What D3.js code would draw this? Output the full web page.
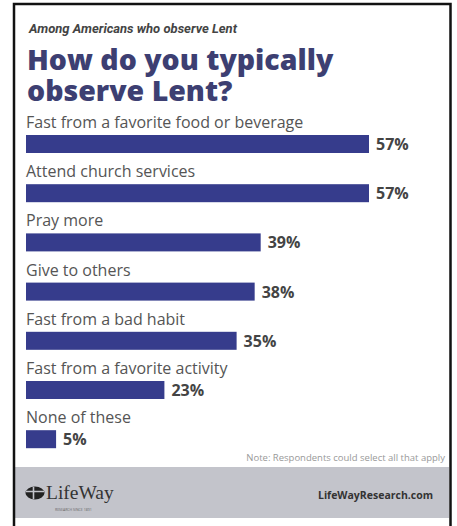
<!DOCTYPE html>
<html lang="en">
<head>
  <meta charset="UTF-8" />
  <title>How do you typically observe Lent?</title>
  <script src="https://d3js.org/d3.v7.min.js"></script>
  <style>
    body {
      margin: 0;
      background: #fff;
      overflow: hidden;
    }
    svg text {
      font-family: "Open Sans", "Noto Sans", sans-serif;
    }
  </style>
</head>
<body>
<svg width="457" height="526"></svg>
<script>
const categories = [
  "Fast from a favorite food or beverage",
  "Attend church services",
  "Pray more",
  "Give to others",
  "Fast from a bad habit",
  "Fast from a favorite activity",
  "None of these"
];
const values = [57, 57, 39, 38, 35, 23, 5];
const valueLabels = ["57%", "57%", "39%", "38%", "35%", "23%", "5%"];

const kicker = "Among Americans who observe Lent";
const titleLines = ["How do you typically", "observe Lent?"];
const note = "Note: Respondents could select all that apply";

const width = 457, height = 526;
const svg = d3.select("svg");

// frame + footer band
svg.append("rect")
  .attr("x", 15).attr("y", 467).attr("width", 434).attr("height", 51)
  .attr("fill", "#c3c4cb");
svg.append("path")
  .attr("d", "M14,526 V4 H450.5 V526")
  .attr("fill", "none")
  .attr("stroke", "#111")
  .attr("stroke-width", 2.5);

// headings
svg.append("text")
  .attr("x", 29).attr("y", 33)
  .style("font-family", "Roboto, sans-serif")
  .attr("font-size", 13).attr("font-weight", 700).attr("font-style", "italic")
  .attr("fill", "#444")
  .text(kicker);

// title as one text, two lines
svg.append("text")
  .attr("class", "title")
  .attr("font-size", 28.5).attr("font-weight", 800)
  .attr("fill", "#3d3f72")
  .selectAll("tspan")
  .data(titleLines)
  .enter()
  .append("tspan")
  .attr("x", 27)
  .attr("y", (d, i) => 70 + i * 31)
  .text(d => d);

// scales
const x = d3.scaleLinear().domain([0, 57]).range([0, 343]);
const y = d3.scaleBand().domain(categories).range([117, 117 + 7 * 49.2]);
const left = 26, barH = 18;

const rows = svg.selectAll(".row")
  .data(categories.map((c, i) => ({ c, v: values[i], lab: valueLabels[i] })))
  .enter()
  .append("g")
  .attr("class", "row")
  .attr("transform", d => `translate(0,${y(d.c)})`);

rows.append("text")
  .attr("x", left).attr("y", 11)
  .attr("font-size", 16)
  .attr("fill", "#555")
  .text(d => d.c);

rows.append("rect")
  .attr("x", left).attr("y", 18)
  .attr("width", d => x(d.v)).attr("height", barH)
  .attr("fill", "#363c8c");

rows.append("text")
  .attr("x", d => left + x(d.v) + 7).attr("y", 33)
  .attr("font-size", 16).attr("font-weight", 700)
  .attr("fill", "#444")
  .text(d => d.lab);

// note
svg.append("text")
  .attr("x", 445).attr("y", 461)
  .attr("text-anchor", "end")
  .attr("font-size", 9.5)
  .attr("fill", "#999")
  .text(note);

// footer logo
const logo = svg.append("g").attr("transform", "translate(35,493)");
logo.append("ellipse").attr("rx", 9.5).attr("ry", 6.5).attr("fill", "#222");
logo.append("path")
  .attr("d", "M-1.5,-6 V6 M-9,-1.5 H9")
  .attr("stroke", "#c3c4cb").attr("stroke-width", 1.6);
logo.append("text")
  .attr("x", 11).attr("y", 6)
  .style("font-family", "'Liberation Serif', 'DejaVu Serif', serif")
  .attr("font-size", 19.5)
  .attr("fill", "#333")
  .text("LifeWay");
logo.append("text")
  .attr("x", 20).attr("y", 18)
  .attr("font-size", 3.5)
  .attr("fill", "#666")
  .text("RESEARCH SINCE 1891");

svg.append("text")
  .attr("x", 433).attr("y", 499)
  .attr("text-anchor", "end")
  .attr("font-size", 10.5).attr("font-weight", 700)
  .attr("fill", "#333")
  .text("LifeWayResearch.com");
</script>
</body>
</html>
